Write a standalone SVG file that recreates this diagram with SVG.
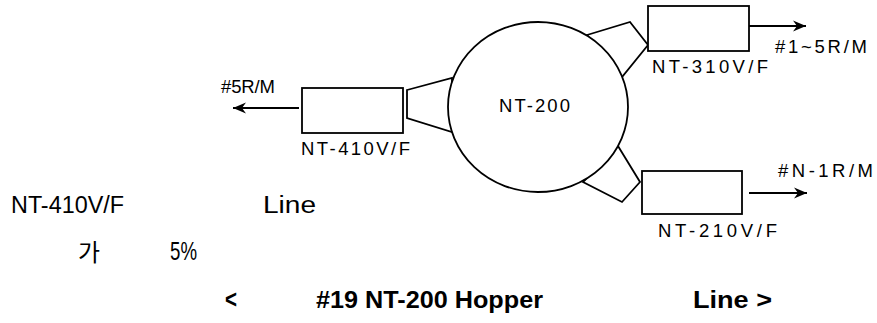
<svg xmlns="http://www.w3.org/2000/svg" width="877" height="323" viewBox="0 0 877 323">
<style>
.s{fill:#fff;stroke:#000;stroke-width:1.8}
.ln{fill:none;stroke:#000;stroke-width:1.8}
.t{font-family:"Liberation Sans",Arial,sans-serif;font-size:18.5px;fill:#000}
.k{font-family:"Liberation Sans","Noto Sans CJK KR",sans-serif;font-size:23.5px;fill:#000}
.b{font-family:"Liberation Sans","Noto Sans CJK KR",sans-serif;font-size:23px;font-weight:bold;fill:#000}
</style>
<defs>
<marker id="ah" markerWidth="16" markerHeight="12" refX="14" refY="6" orient="auto" markerUnits="userSpaceOnUse">
<path d="M14,6 L1,0.5 L5,6 L1,11.5 Z" fill="#000"/>
</marker>
</defs>
<rect width="877" height="323" fill="#fff"/>
<g id="vf410">
<polygon class="s" points="407,90 452,78 452,132 407,118"/>
<rect class="s" x="302" y="88" width="101" height="45"/>
<text class="t" x="301" y="155" textLength="109" lengthAdjust="spacing">NT-410V/F</text>
</g>
<g id="vf310">
<polygon class="s" points="587,35 630,22 648,45 622,77"/>
<rect class="s" x="648" y="6" width="101" height="45"/>
<text class="t" x="652" y="73" textLength="116" lengthAdjust="spacing">NT-310V/F</text>
</g>
<g id="vf210">
<polygon class="s" points="618,146 640,182 622,202 583,182"/>
<rect class="s" x="642" y="171" width="100" height="43"/>
<text class="t" x="658" y="237" textLength="119" lengthAdjust="spacing">NT-210V/F</text>
</g>
<g id="hopper">
<ellipse class="s" cx="538" cy="107" rx="90" ry="85"/>
<text class="t" x="499" y="112" textLength="71" lengthAdjust="spacing">NT-200</text>
</g>
<g id="connectors">
<line class="ln" x1="299" y1="108" x2="233" y2="108" marker-end="url(#ah)"/>
<line class="ln" x1="749" y1="26" x2="806" y2="26" marker-end="url(#ah)"/>
<line class="ln" x1="749" y1="193" x2="807" y2="193" marker-end="url(#ah)"/>
<text class="t" x="221" y="93" textLength="54" lengthAdjust="spacing">#5R/M</text>
<text class="t" x="775" y="53" textLength="92" lengthAdjust="spacing">#1~5R/M</text>
<text class="t" x="778" y="177" textLength="95" lengthAdjust="spacing">#N-1R/M</text>
</g>
<g id="notes">
<text class="k" x="11" y="213" textLength="113" lengthAdjust="spacingAndGlyphs">NT-410V/F</text>
<text class="k" x="263" y="213" textLength="53" lengthAdjust="spacingAndGlyphs">Line</text>
<text class="k" x="78" y="261" textLength="22" lengthAdjust="spacingAndGlyphs">가</text>
<text class="k" x="170" y="260" style="font-size:25px" textLength="27" lengthAdjust="spacingAndGlyphs">5%</text>
<text class="b" x="225" y="308" style="font-size:26px" textLength="12" lengthAdjust="spacingAndGlyphs">&lt;</text>
<text class="b" x="316" y="308" textLength="227" lengthAdjust="spacingAndGlyphs">#19 NT-200 Hopper</text>
<text class="b" x="693" y="308" textLength="79" lengthAdjust="spacingAndGlyphs">Line &gt;</text>
</g>
</svg>
